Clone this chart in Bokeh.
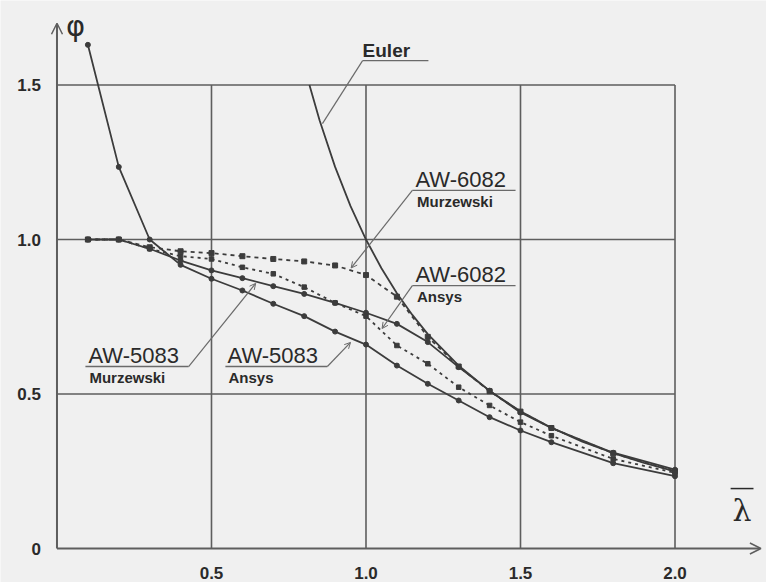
from bokeh.plotting import figure
from bokeh.models import Range1d, Arrow, OpenHead
from bokeh.core.properties import value
from bokeh.embed import file_html
from bokeh.resources import INLINE

# ---- data ----
lam = [0.1, 0.2, 0.3, 0.4, 0.5, 0.6, 0.7, 0.8, 0.9, 1.0, 1.1, 1.2, 1.3, 1.4, 1.5, 1.6, 1.8, 2.0]
aw6082_murzewski = [1.0, 1.0, 0.975, 0.962, 0.956, 0.946, 0.937, 0.929, 0.916, 0.885, 0.815, 0.685,
                    0.589, 0.509, 0.443, 0.390, 0.308, 0.250]
aw6082_ansys = [1.0, 1.0, 0.97, 0.946, 0.937, 0.910, 0.889, 0.846, 0.795, 0.752, 0.657, 0.598,
                0.522, 0.463, 0.409, 0.365, 0.290, 0.245]
aw5083_murzewski = [1.0, 1.0, 0.97, 0.932, 0.900, 0.875, 0.849, 0.824, 0.795, 0.763, 0.727, 0.668,
                    0.587, 0.511, 0.440, 0.390, 0.310, 0.255]
aw5083_ansys = [1.63, 1.235, 1.0, 0.918, 0.873, 0.835, 0.792, 0.752, 0.702, 0.660, 0.592, 0.533,
                0.479, 0.425, 0.382, 0.344, 0.276, 0.234]
euler_lam = [0.817, 0.85, 0.9, 0.95, 1.0, 1.05, 1.1, 1.15, 1.2, 1.3, 1.4, 1.5, 1.6, 1.7, 1.8, 1.9, 2.0]
euler_phi = [1.50, 1.385, 1.235, 1.108, 1.0, 0.907, 0.826, 0.756, 0.694, 0.592, 0.510, 0.444,
             0.391, 0.346, 0.309, 0.277, 0.250]

x_ticks = [0.5, 1.0, 1.5, 2.0]
x_tick_labels = ["0.5", "1.0", "1.5", "2.0"]
y_ticks = [0.0, 0.5, 1.0, 1.5]
y_tick_labels = ["0", "0.5", "1.0", "1.5"]

LINE = "#3c3c3c"
GRID = "#5e5e5e"
TEXT = "#2a2a2a"
BG = "#f0f0f0"
FONT = "Liberation Sans"

p = figure(width=766, height=582, x_range=Range1d(-0.1828, 2.2961), y_range=Range1d(-0.110, 1.7735),
           output_backend="svg", toolbar_location=None, min_border=0,
           x_axis_location=None, y_axis_location=None)
p.grid.visible = False
p.outline_line_color = None
p.background_fill_color = BG
p.border_fill_color = BG

# grid box
xmax = x_ticks[-1]
ymax = y_ticks[-1]
p.segment(x0=x_ticks, y0=[0] * len(x_ticks), x1=x_ticks, y1=[ymax] * len(x_ticks),
          line_color=GRID, line_width=1.6)
p.segment(x0=[0] * 3, y0=y_ticks[1:], x1=[xmax] * 3, y1=y_ticks[1:], line_color=GRID, line_width=1.6)

# axes with arrows
p.add_layout(Arrow(end=OpenHead(size=11, line_color=GRID, line_width=1.5), x_start=0, y_start=0,
                   x_end=0, y_end=1.70, line_color=GRID, line_width=2))
p.add_layout(Arrow(end=OpenHead(size=11, line_color=GRID, line_width=1.5), x_start=0, y_start=0,
                   x_end=2.278, y_end=0, line_color=GRID, line_width=2))

# tick labels
p.text(x=x_ticks, y=[-0.078] * 4, text=x_tick_labels, text_font=value(FONT), text_font_style="bold",
       text_font_size="17px", text_align="center", text_baseline="middle", text_color=TEXT)
p.text(x=[-0.052] * 4, y=y_ticks, text=y_tick_labels, text_font=value(FONT), text_font_style="bold",
       text_font_size="17px", text_align="right", text_baseline="middle", text_color=TEXT)

# axis titles
p.text(x=[0.06], y=[1.69], text=["φ"], text_font=value("DejaVu Sans"), text_font_size="29px",
       text_align="center", text_baseline="middle", text_color=TEXT)
p.text(x=[2.217], y=[0.123], text=["λ"], text_font=value("DejaVu Serif"), text_font_size="30px",
       text_align="center", text_baseline="middle", text_color=TEXT)
p.segment(x0=[2.180], y0=[0.194], x1=[2.254], y1=[0.194], line_color=TEXT, line_width=1.5)

# curves
p.line(euler_lam, euler_phi, line_color=LINE, line_width=1.8)
p.line(lam, aw5083_murzewski, line_color=LINE, line_width=1.8)
p.scatter(lam, aw5083_murzewski, size=5, color=LINE)
p.line(lam, aw5083_ansys, line_color=LINE, line_width=1.8)
p.scatter(lam, aw5083_ansys, size=5, color=LINE)
p.line(lam, aw6082_murzewski, line_color=LINE, line_width=1.8, line_dash="4 4")
p.scatter(lam, aw6082_murzewski, size=5, marker="square", color=LINE)
p.line(lam, aw6082_ansys, line_color=LINE, line_width=1.8, line_dash="3 4")
p.scatter(lam, aw6082_ansys, size=4.5, marker="square", color=LINE)

# labels with underlines and leaders
LEAD = "#6a6a6a"


def label(x, y, txt, size, bold=False, baseline="bottom"):
    p.text(x=[x], y=[y], text=[txt], text_font=value(FONT), text_font_size=size,
           text_font_style="bold" if bold else "normal", text_color=TEXT,
           text_baseline=baseline, text_align="left")


def leader(x0, y0, x1, y1, head=True):
    p.add_layout(Arrow(end=OpenHead(size=6, line_color=LEAD, line_width=1) if head else None,
                       x_start=x0, y_start=y0, x_end=x1, y_end=y1, line_color=LEAD, line_width=1.2))


# Euler
label(0.989, 1.577, "Euler", "19px", bold=True)
p.segment(x0=[0.989], y0=[1.579], x1=[1.202], y1=[1.579], line_color=LEAD, line_width=1.3)
leader(0.989, 1.579, 0.859, 1.375, head=False)

# AW-6082 Murzewski
label(1.160, 1.153, "AW-6082", "22px")
p.segment(x0=[1.150], y0=[1.159], x1=[1.484], y1=[1.159], line_color=LEAD, line_width=1.3)
label(1.165, 1.150, "Murzewski", "15px", bold=True, baseline="top")
leader(1.150, 1.159, 0.952, 0.908)

# AW-6082 Ansys
label(1.160, 0.845, "AW-6082", "22px")
p.segment(x0=[1.150], y0=[0.851], x1=[1.484], y1=[0.851], line_color=LEAD, line_width=1.3)
label(1.165, 0.842, "Ansys", "15px", bold=True, baseline="top")
leader(1.150, 0.851, 1.052, 0.712)

# AW-5083 Murzewski
label(0.102, 0.584, "AW-5083", "22px")
p.segment(x0=[0.092], y0=[0.589], x1=[0.426], y1=[0.589], line_color=LEAD, line_width=1.3)
label(0.105, 0.580, "Murzewski", "15px", bold=True, baseline="top")
leader(0.426, 0.589, 0.643, 0.858)

# AW-5083 Ansys
label(0.552, 0.584, "AW-5083", "22px")
p.segment(x0=[0.545], y0=[0.589], x1=[0.875], y1=[0.589], line_color=LEAD, line_width=1.3)
label(0.555, 0.580, "Ansys", "15px", bold=True, baseline="top")
leader(0.875, 0.589, 0.950, 0.667)

open("out.html", "w").write(file_html(p, INLINE))
